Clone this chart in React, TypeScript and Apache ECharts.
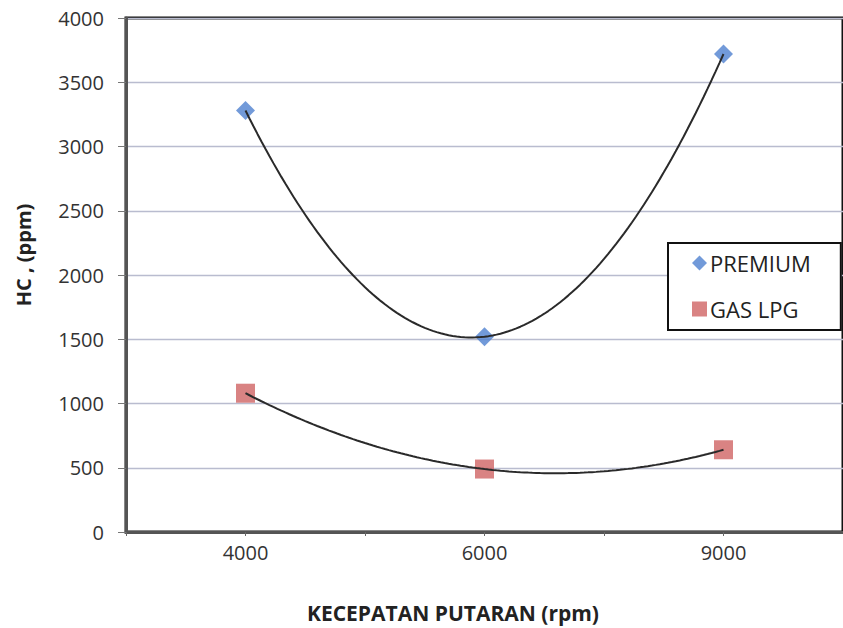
import React, { useEffect, useRef } from "react";
import * as echarts from "echarts";

// Engine speed categories (rpm)
const speeds = ["4000", "6000", "9000"];
// HC emission (ppm) for each fuel
const premium = [3280, 1520, 3720];
const lpg = [1080, 490, 640];
// Y axis range
const yMin = 0;
const yMax = 4000;
const yStep = 500;

const xTitle = "KECEPATAN PUTARAN (rpm)";
const yTitle = "HC , (ppm)";

const FONT = "Open Sans";

// Order-2 polynomial trendline: with three points it is the interpolating parabola
function polyTrend(values: number[], steps = 120): number[][] {
  const xs = values.map((_, i) => i);
  const pts: number[][] = [];
  for (let s = 0; s <= steps; s++) {
    const x = xs[0] + ((xs[xs.length - 1] - xs[0]) * s) / steps;
    let y = 0;
    for (let i = 0; i < xs.length; i++) {
      let l = 1;
      for (let j = 0; j < xs.length; j++) {
        if (j !== i) l *= (x - xs[j]) / (xs[i] - xs[j]);
      }
      y += values[i] * l;
    }
    pts.push([x, y]);
  }
  return pts;
}

export default function App() {
  const ref = useRef<HTMLDivElement>(null);

  useEffect(() => {
    if (!ref.current) return;
    const chart = echarts.init(ref.current, undefined, { renderer: "svg" });
    chart.setOption({
      animation: false,
      backgroundColor: "#ffffff",
      textStyle: { fontFamily: FONT },
      grid: {
        left: 126,
        top: 18,
        width: 726,
        height: 514,
        show: true,
        borderColor: "#111111",
        borderWidth: 3,
        backgroundColor: "#ffffff",
      },
      graphic: [
        {
          type: "text",
          x: 453,
          y: 613,
          style: {
            text: xTitle,
            fontFamily: FONT,
            fontSize: 21,
            fontWeight: "bold",
            fill: "#222222",
            textAlign: "center",
            textVerticalAlign: "middle",
          },
        },
        {
          type: "text",
          x: 23,
          y: 255,
          rotation: Math.PI / 2,
          style: {
            text: yTitle,
            fontFamily: FONT,
            fontSize: 20,
            fontWeight: "bold",
            fill: "#222222",
            textAlign: "center",
            textVerticalAlign: "middle",
          },
        },
      ],
      legend: {
        data: [
          { name: "PREMIUM", icon: "diamond" },
          { name: "GAS LPG", icon: "rect" },
        ],
        orient: "vertical",
        left: 668,
        top: 243,
        padding: [9, 30, 10, 24],
        itemGap: 24,
        itemWidth: 15,
        itemHeight: 15,
        backgroundColor: "#ffffff",
        borderColor: "#111111",
        borderWidth: 2,
        textStyle: { fontFamily: FONT, fontSize: 22, color: "#222222", padding: [0, 0, 0, -2] },
        selectedMode: false,
      },
      xAxis: [
        {
          type: "category",
          data: speeds,
          boundaryGap: true,
          axisLine: { show: true, lineStyle: { color: "#555555", width: 3 } },
          axisTick: { show: false },
          axisLabel: { fontFamily: FONT, fontSize: 20, color: "#333333", margin: 10 },
          splitLine: { show: false },
        },
        {
          // hidden numeric scale for the trendlines; also carries the tick marks
          type: "value",
          position: "bottom",
          min: -0.5,
          max: 2.5,
          interval: 0.5,
          axisLine: { show: false },
          axisTick: { show: true, length: 4, inside: false, lineStyle: { color: "#666666", width: 1 } },
          axisLabel: { show: false },
          splitLine: { show: false },
        },
      ],
      yAxis: {
        type: "value",
        min: yMin,
        max: yMax,
        interval: yStep,
        axisLine: { show: true, onZero: false, lineStyle: { color: "#555555", width: 3 } },
        axisTick: { show: true, length: 8, lineStyle: { color: "#777777", width: 1 } },
        axisLabel: {
          fontFamily: FONT,
          fontSize: 20,
          color: "#333333",
          margin: 22,
          formatter: (v: number) => String(v),
        },
        splitLine: { show: true, lineStyle: { color: "#b9bccf", width: 1.3 } },
      },
      series: [
        {
          name: "PREMIUM",
          type: "scatter",
          xAxisIndex: 0,
          data: premium,
          symbol: "diamond",
          symbolSize: 19,
          itemStyle: { color: "#4f81cf" },
          z: 2,
        },
        {
          name: "GAS LPG",
          type: "scatter",
          xAxisIndex: 0,
          data: lpg,
          symbol: "rect",
          symbolSize: 19,
          itemStyle: { color: "#d06464" },
          z: 2,
        },
        {
          name: "PREMIUM trend",
          type: "line",
          xAxisIndex: 1,
          data: polyTrend(premium),
          showSymbol: false,
          lineStyle: { color: "#2a2a2a", width: 2 },
          z: 3,
        },
        {
          name: "GAS LPG trend",
          type: "line",
          xAxisIndex: 1,
          data: polyTrend(lpg),
          showSymbol: false,
          lineStyle: { color: "#2a2a2a", width: 2 },
          z: 3,
        },
      ],
    });
    return () => chart.dispose();
  }, []);

  return (
    <div
      ref={ref}
      style={{ position: "fixed", left: 0, top: 0, width: 843, height: 628 }}
    />
  );
}
